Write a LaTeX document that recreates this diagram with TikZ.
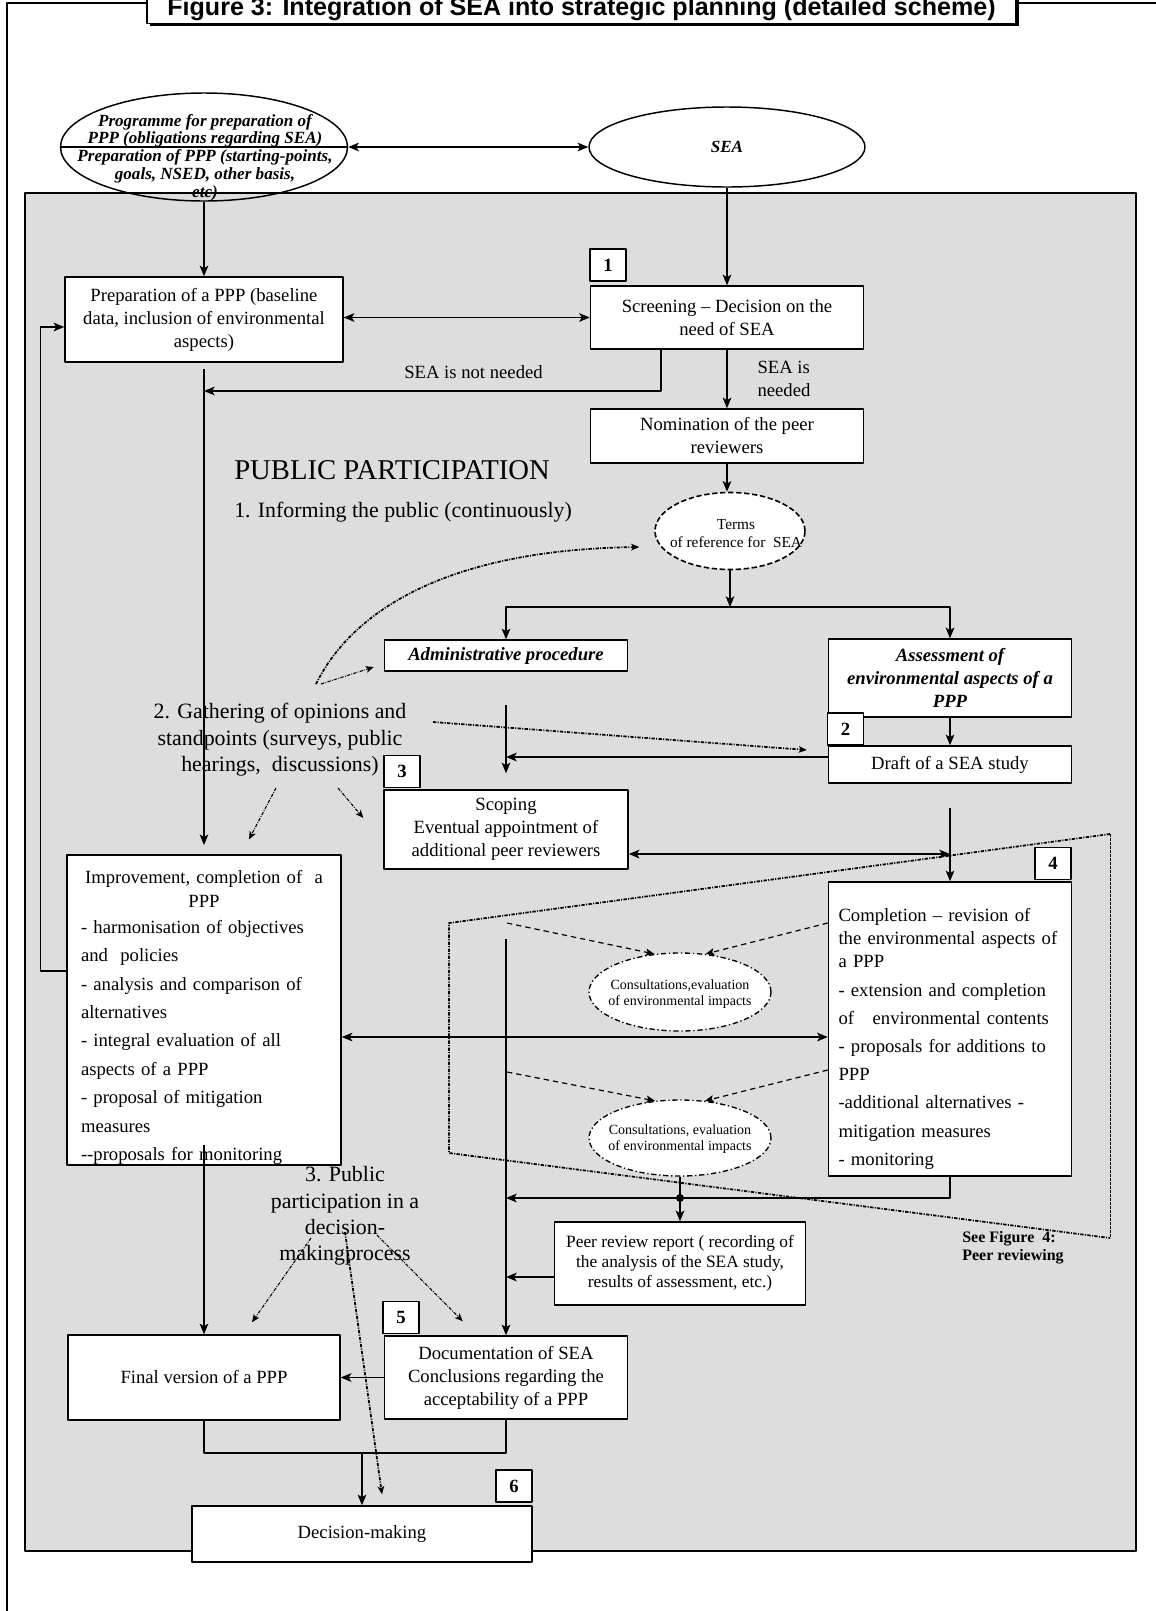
\documentclass[tikz,border=0pt]{standalone}
\usepackage{fontspec}
\setmainfont{Liberation Serif}
\newfontfamily\titlefont{Liberation Sans}
\usetikzlibrary{arrows.meta,shapes.geometric,calc,shadows}
\definecolor{panelgray}{RGB}{221,221,221}
\def\pix{0.75pt}

\begin{document}
\begin{tikzpicture}[x=\pix, y=-\pix, line join=round,
	>={Stealth[length=8pt,width=6.5pt,inset=2pt]},
	txt/.style={font=\fontsize{14}{17.25}\selectfont},
	box/.style={draw, fill=white, line width=1.1pt, inner sep=0pt, align=center, txt},
	numbox/.style={draw, fill=white, line width=1.1pt, inner sep=0pt, minimum width=36*\pix, minimum height=32*\pix, font=\bfseries\fontsize{14}{16}\selectfont},
	oval/.style={ellipse, draw, inner sep=0pt},
	flow/.style={->, line width=1.1pt},
	flow2/.style={<->, line width=1.1pt},
	pub/.style={-{Stealth[length=6pt,width=5pt,inset=1.5pt]}, line width=0.8pt, dash pattern=on 2.5pt off 1pt on 0.6pt off 1pt},
	pubthick/.style={pub, line width=1.3pt, dash pattern=on 2.5pt off 1pt on 0.8pt off 1pt},
	consult/.style={-{Stealth[length=6.5pt,width=5.5pt,inset=1.5pt]}, line width=0.9pt, dash pattern=on 4pt off 3pt},
	review/.style={line width=1.3pt, dash pattern=on 2.5pt off 1pt on 0.8pt off 1pt},
	bigtxt/.style={font=\fontsize{16.4}{19.8}\selectfont, align=center}]
	
	\useasboundingbox (0,0) rectangle (1156,1611);
	
	% frame and title
	\draw[line width=1.1pt] (147,3) -- (7,3) -- (7,1611);
	\draw[line width=1.1pt] (1016,3) -- (1156,3);
	\node[draw, fill=white, line width=1.1pt, anchor=south, inner xsep=0pt, inner ysep=2pt, minimum width=869*\pix,
		drop shadow={opacity=1, fill=black, shadow xshift=2pt, shadow yshift=-2pt},
		font=\titlefont\bfseries\fontsize{18.8}{22}\selectfont] (title) at (581.5,24)
		{Figure 3: Integration of SEA into strategic planning (detailed scheme)};
	
	\draw[fill=panelgray, line width=1.2pt] (25,193) rectangle (1136,1551);
	
	% ellipses on top
	\node[oval, line width=1.1pt, minimum width=287*\pix, minimum height=108*\pix] (prog) at (204,147) {};
	\node[font=\bfseries\itshape\fontsize{12.8}{13.3}\selectfont, align=center, inner sep=0pt] (progtext) at (205,157.5)
		{Programme for preparation of\\PPP (obligations regarding SEA)\\Preparation of PPP (starting-points,\\goals, NSED, other basis,\\etc)};
	\draw[line width=1.1pt] (prog.west) -- (prog.east);
	\node[oval, line width=1.1pt, minimum width=276*\pix, minimum height=80*\pix, font=\bfseries\itshape\fontsize{12.8}{15}\selectfont] (sea) at (727,147) {SEA};
	
	% boxes
	\node[box, minimum width=278*\pix, minimum height=85*\pix] (ppp) at (204,319.5) {Preparation of a PPP (baseline\\data, inclusion of environmental\\aspects)};
	\node[box, minimum width=273*\pix, minimum height=63*\pix] (screen) at (727,317.5) {Screening -- Decision on the\\need of SEA};
	\node[numbox] (n1) at (608,265) {1};
	\node[box, minimum width=273*\pix, minimum height=54*\pix] (nomin) at (727,436) {Nomination of the peer\\reviewers};
	\node[oval, fill=white, line width=1.2pt, dash pattern=on 4pt off 2pt, minimum width=150*\pix, minimum height=77*\pix] (terms) at (730,531) {};
	\node[font=\fontsize{11.5}{13.5}\selectfont, align=center] (termstext) at (736,534) {Terms\\of reference for\ \ SEA};
	\node[box, minimum width=243*\pix, minimum height=31*\pix, font=\bfseries\itshape\fontsize{14}{17}\selectfont] (admin) at (506,655.5) {Administrative procedure};
	\node[box, minimum width=243*\pix, minimum height=78*\pix, font=\bfseries\itshape\fontsize{14}{17}\selectfont] (assess) at (950,678) {Assessment of\\environmental aspects of a\\PPP};
	\node[numbox] (n2) at (845.5,729) {2};
	\node[box, minimum width=243*\pix, minimum height=37*\pix] (draft) at (950,764.5) {Draft of a SEA study};
	\node[numbox] (n3) at (402,771.5) {3};
	\node[box, minimum width=244*\pix, minimum height=79*\pix] (scoping) at (506,829.5) {Scoping\\Eventual appointment of\\additional peer reviewers};
	\node[numbox] (n4) at (1053,863.5) {4};
	\node[box, align=left, text width=223*\pix, inner xsep=10*\pix, minimum height=294*\pix] (compl) at (950,1029)
		{\rule{0pt}{25pt}Completion -- revision of\\the environmental aspects of\\a PPP\\[3.9pt]- extension and completion\\[3.9pt]of\ \ \ environmental contents\\[3.9pt]- proposals for additions to\\[3.9pt]PPP\\[3.9pt]-additional alternatives -\\[3.9pt]mitigation measures\\[3.9pt]- monitoring};
	\node[box, align=left, text width=246*\pix, inner xsep=14*\pix, minimum height=306*\pix] (impr) at (204,1010)
		{\makebox[\hsize]{\rule{0pt}{21pt}Improvement, completion of\ \ a}\\[0.75pt]\makebox[\hsize]{PPP}\\[2.25pt]- harmonisation of objectives\\[4.1pt]and\ \ policies\\[4.1pt]- analysis and comparison of\\[4.1pt]alternatives\\[4.1pt]- integral evaluation of all\\[4.1pt]aspects of a PPP\\[4.1pt]- proposal of mitigation\\[4.1pt]measures\\[4.1pt]-{}-proposals for monitoring};
	\node[oval, fill=white, line width=1pt, dash pattern=on 4pt off 2pt on 1pt off 2pt, minimum width=182*\pix, minimum height=78*\pix] (consA) at (680,992) {};
	\node[font=\fontsize{10.5}{12}\selectfont, align=center] (consAtext) at (680,994) {Consultations,evaluation\\of environmental impacts};
	\node[oval, fill=white, line width=1pt, dash pattern=on 4pt off 2pt on 1pt off 2pt, minimum width=182*\pix, minimum height=76*\pix] (consB) at (680,1138) {};
	\node[font=\fontsize{10.5}{12}\selectfont, align=center] (consBtext) at (680,1139.5) {Consultations, evaluation\\of environmental impacts};
	\node[box, minimum width=251*\pix, minimum height=83*\pix, font=\fontsize{13}{15}\selectfont] (peer) at (680,1263.5) {Peer review report ( recording of\\the analysis of the SEA study,\\results of assessment, etc.)};
	\node[numbox] (n5) at (401,1317.5) {5};
	\node[box, minimum width=243*\pix, minimum height=83*\pix] (docu) at (506,1377.5) {Documentation of SEA\\Conclusions regarding the\\acceptability of a PPP};
	\node[box, minimum width=272*\pix, minimum height=85*\pix] (final) at (204,1377.5) {Final version of a PPP};
	\node[numbox] (n6) at (514,1486) {6};
	\node[box, minimum width=340*\pix, minimum height=56*\pix] (decis) at (362,1534) {Decision-making};
	
	% public participation texts
	\node[anchor=west, inner sep=0pt, font=\fontsize{21.5}{24}\selectfont] (pubtitle) at (234,470) {PUBLIC PARTICIPATION};
	\node[anchor=west, inner sep=0pt, font=\fontsize{16.4}{20}\selectfont] (pubinfo) at (234,512) {1. Informing the public (continuously)};
	\node[bigtxt] (gather) at (280,740) {2. Gathering of opinions and\\standpoints (surveys, public\\hearings,\ \ discussions)};
	\node[bigtxt] (pubdec) at (345,1216) {3. Public\\participation in a\\decision-\\makingprocess};
	\node[anchor=west, align=left, inner sep=0pt, font=\bfseries\fontsize{12}{13.5}\selectfont] (seefig) at (962,1248) {See Figure\ \ 4:\\Peer reviewing};
	
	% main flow
	\draw[flow2] (prog) -- (sea);
	\draw[flow] (prog) -- (ppp);
	\draw[flow] (sea) -- (screen);
	\draw[flow2] (ppp.east |- screen) -- (screen);
	\coordinate (notneed) at (204,391);
	\draw[flow] ($(screen.south west)+(71,0)$) |- (notneed) node[pos=0.705, above=5pt, txt] {SEA is not needed};
	\draw[flow] (screen) -- (nomin) node[midway, anchor=west, xshift=19pt, txt, align=left] {SEA is\\needed};
	\draw[flow] (nomin) -- (nomin |- terms.north);
	\coordinate (split) at (730,607);
	\draw[flow] (terms) -- (split);
	\draw[flow] (split) -| (admin);
	\draw[flow] (split) -| (assess);
	\draw[flow] (assess) -- (draft);
	\draw[flow, shorten <=25pt, shorten >=12pt] (admin) -- (scoping);
	\coordinate (scopein) at (506,757);
	\draw[flow] (draft.west |- scopein) -- (scopein);
	\coordinate (peerjoin) at (950,854);
	\draw[flow2] (scoping.east |- peerjoin) -- (peerjoin);
	\draw[flow, shorten <=18pt] (draft) -- (compl);
	\coordinate (docin) at (506,1198);
	\draw[flow] (compl) |- (docin);
	\coordinate (peerdot) at (680,1198);
	\draw[line width=1.1pt] (consB) -- (peerdot);
	\fill (peerdot) circle[radius=4];
	\draw[flow] (peerdot) -- (peer);
	\coordinate (peerout) at (506,1277);
	\draw[flow] (peer.west |- peerout) -- (peerout);
	\coordinate (docline) at (506,939);
	\draw[flow] (docline) -- (docu);
	\draw[flow] (docu) -- (final);
	\coordinate (midrow) at (584,1037);
	\draw[flow2] (impr.east |- midrow) -- (compl.west |- midrow);
	\draw[flow] ($(impr.west)+(0,-39)$) -- ++(-26,0) |- ($(ppp.west)+(0,7.5)$);
	\draw[flow, shorten <=5pt, shorten >=7pt] (ppp) -- (impr);
	\draw[flow] ($(impr.south)+(0,-21)$) -- (final);
	\coordinate (merge) at (362,1453);
	\draw[line width=1.1pt] (final) |- (merge) -| (docu);
	\draw[flow] (merge) -- (decis);
	
	% consultations
	\coordinate (consin1) at (507,923);
	\coordinate (consin2) at (507,1072);
	\draw[consult] (consin1) -- (consA.124);
	\draw[consult] ($(compl.west)+(0,-106)$) -- (consA.56);
	\draw[consult] (consin2) -- (consB.124);
	\draw[consult] ($(compl.west)+(0,41)$) -- (consB.56);
	
	% peer reviewing frame
	\coordinate (rv1) at (1110,834);
	\coordinate (rv2) at (449,923);
	\coordinate (rv3) at (449,1153);
	\coordinate (rv4) at (1110,1238);
	\draw[review] (rv1) -- (rv2) -- (rv3) -- (rv4);
	\draw[line width=0.6pt, dash pattern=on 2pt off 1pt] (rv1) -- (rv4);
	
	% public participation arrows
	\coordinate (pubA) at (316,684);
	\coordinate (pubB) at (433,722);
	\coordinate (pubC) at (276,788);
	\coordinate (pubD) at (338,788);
	\coordinate (pubE) at (311,1238);
	\coordinate (pubF) at (377,1235);
	\coordinate (pubG) at (345,1232);
	\draw[pubthick] (pubA) .. controls (350,615) and (440,550) .. ($(terms.west)+(-15,16)$);
	\draw[pub] ($(pubA)+(5,0)$) -- ($(admin.west)+(-10,11.5)$);
	\draw[pubthick] (pubB) -- ($(draft.west)+(-21,-14.5)$);
	\draw[pub] (pubC) -- ($(impr.north)+(45,-15)$);
	\draw[pub] (pubD) -- ($(scoping.west)+(-20,-11.5)$);
	\draw[pub] (pubE) -- ($(final.north)+(48,-12)$);
	\draw[pub] (pubF) -- ($(docu.north west)+(79,-14)$);
	\draw[pubthick] (pubG) -- ($(decis.north)+(20,-11)$);
\end{tikzpicture}
\end{document}
